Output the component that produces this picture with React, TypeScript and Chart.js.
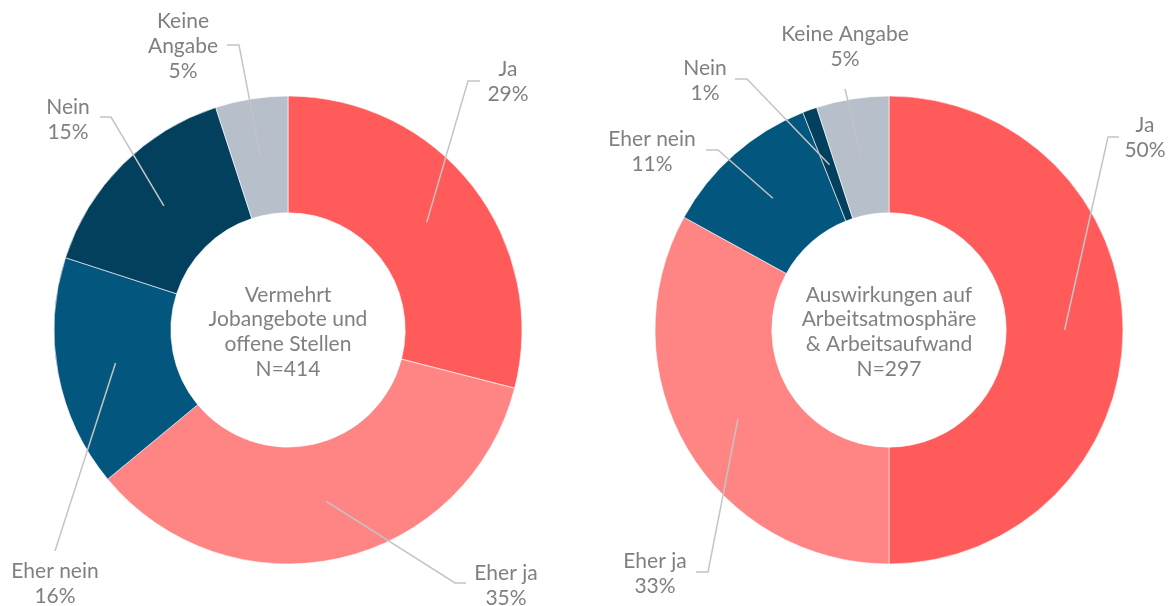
import React, { useEffect, useRef } from "react";
import { Chart, registerables } from "chart.js";

Chart.register(...registerables);

// ---- Data ----
const categories = ["Ja", "Eher ja", "Eher nein", "Nein", "Keine Angabe"];
const jobValues = [29, 35, 16, 15, 5];
const atmoValues = [50, 33, 11, 1, 5];
const jobTitle = ["Vermehrt", "Jobangebote und", "offene Stellen", "N=414"];
const atmoTitle = ["Auswirkungen auf", "Arbeitsatmosphäre", "& Arbeitsaufwand", "N=297"];
const jobLabelLines = [["Ja"], ["Eher ja"], ["Eher nein"], ["Nein"], ["Keine", "Angabe"]];
const atmoLabelLines = [["Ja"], ["Eher ja"], ["Eher nein"], ["Nein"], ["Keine Angabe"]];

// ---- Style ----
const sliceColors = ["#FF5B5B", "#FF8585", "#03567D", "#02405E", "#B7BFCA"];
const textColor = "#808080";
const leaderColor = "#C4C4C4";
const FONT = "Lato, 'Open Sans', sans-serif";
const FONT_SIZE = 21;

// label layout relative to chart centre: l = label centre, k = elbow, e = leader end
type Pos = { lx: number; ly: number; kx: number; ky: number; ex: number; ey: number };
const jobLayout: Pos[] = [
  { lx: 220, ly: -248, kx: 180, ky: -249, ex: 192, ey: -249 },
  { lx: 218, ly: 256, kx: 167, ky: 253, ex: 178, ey: 253 },
  { lx: -233, ly: 254, kx: -233, ky: 221, ex: -233, ey: 221 },
  { lx: -220, ly: -210, kx: -177, ky: -213, ex: -188, ey: -213 },
  { lx: -105, ly: -284, kx: -49, ky: -285, ex: -61, ey: -285 },
];
const atmoLayout: Pos[] = [
  { lx: 256, ly: -192, kx: 219, ky: -193, ex: 230, ey: -193 },
  { lx: -234, ly: 244, kx: -181, ky: 242, ex: -193, ey: 242 },
  { lx: -237, ly: -178, kx: -171, ky: -180, ex: -183, ey: -180 },
  { lx: -184, ly: -249, kx: -142, ky: -251, ex: -154, ey: -251 },
  { lx: -44, ly: -283, kx: -44, ky: -241, ex: -44, ey: -241 },
];

type DonutProps = {
  values: number[];
  title: string[];
  labelLines: string[][];
  layout: Pos[];
  left: number;
  padLeft: number;
  padRight: number;
};

function Donut({ values, title, labelLines, layout, left, padLeft, padRight }: DonutProps) {
  const ref = useRef<HTMLCanvasElement | null>(null);

  useEffect(() => {
    if (!ref.current) return;
    const labelPlugin = {
      id: "donutLabels",
      afterDraw(chart: any) {
        const ctx = chart.ctx;
        const meta = chart.getDatasetMeta(0);
        ctx.save();
        const lineH = 25;
        meta.data.forEach((arc: any, i: number) => {
          const p = arc.getProps(["x", "y", "startAngle", "endAngle", "innerRadius", "outerRadius"], true);
          const mid = (p.startAngle + p.endAngle) / 2;
          const r = (p.innerRadius + p.outerRadius) / 2;
          const sx = p.x + Math.cos(mid) * r;
          const sy = p.y + Math.sin(mid) * r;
          const L = layout[i];
          ctx.strokeStyle = leaderColor;
          ctx.lineWidth = 1.5;
          ctx.beginPath();
          ctx.moveTo(sx, sy);
          ctx.lineTo(p.x + L.kx, p.y + L.ky);
          ctx.lineTo(p.x + L.ex, p.y + L.ey);
          ctx.stroke();
          const lines = [...labelLines[i], values[i] + "%"];
          ctx.fillStyle = textColor;
          ctx.font = `${FONT_SIZE}px ${FONT}`;
          ctx.textAlign = "center";
          ctx.textBaseline = "middle";
          const top = p.y + L.ly - ((lines.length - 1) * lineH) / 2;
          lines.forEach((t, j) => ctx.fillText(t, p.x + L.lx, top + j * lineH));
        });
        // centre text
        const c = meta.data[0];
        const cx = c.x;
        const cy = c.y + 2;
        const tH = 24.7;
        ctx.fillStyle = textColor;
        ctx.font = `${FONT_SIZE}px ${FONT}`;
        ctx.textAlign = "center";
        ctx.textBaseline = "middle";
        const t0 = cy - ((title.length - 1) * tH) / 2;
        title.forEach((t, j) => ctx.fillText(t, cx, t0 + j * tH));
        ctx.restore();
      },
    };

    const chart = new Chart(ref.current, {
      type: "doughnut",
      data: {
        labels: categories,
        datasets: [
          {
            data: values,
            backgroundColor: sliceColors,
            borderColor: "#ffffff",
            borderWidth: 0.6,
          },
        ],
      },
      options: {
        responsive: false,
        animation: false,
        radius: 234,
        cutout: 117,
        layout: { padding: { top: 96, bottom: 42, left: padLeft, right: padRight } },
        plugins: {
          legend: { display: false },
          tooltip: { enabled: false },
        },
      } as any,
      plugins: [labelPlugin],
    });
    return () => chart.destroy();
  }, []);

  return (
    <canvas
      ref={ref}
      width={587}
      height={606}
      style={{ position: "absolute", left, top: 0, width: 587, height: 606 }}
    />
  );
}

export default function App() {
  return (
    <div
      style={{
        position: "fixed",
        left: 0,
        top: 0,
        width: 1174,
        height: 606,
        background: "#ffffff",
        overflow: "hidden",
      }}
    >
      <Donut values={jobValues} title={jobTitle} labelLines={jobLabelLines} layout={jobLayout} left={0} padLeft={40} padRight={51} />
      <Donut values={atmoValues} title={atmoTitle} labelLines={atmoLabelLines} layout={atmoLayout} left={587} padLeft={57} padRight={40} />
    </div>
  );
}
